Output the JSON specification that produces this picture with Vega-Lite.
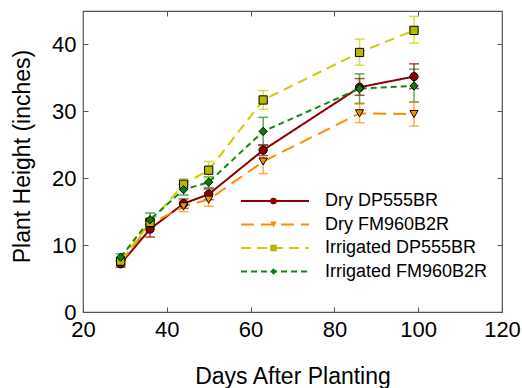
{
  "$schema": "https://vega.github.io/schema/vega-lite/v6.json",
  "width": 419,
  "height": 301,
  "autosize": {"type": "none"},
  "padding": {"left": 83, "top": 11, "right": 20, "bottom": 76},
  "config": {
    "font": "Liberation Sans",
    "view": {"stroke": "#555555", "strokeWidth": 1.2},
    "axis": {
      "grid": false,
      "domain": false,
      "tickColor": "#555555",
      "tickSize": -5,
      "tickWidth": 1,
      "labelFlush": false,
      "labelFont": "Liberation Sans",
      "labelFontSize": 22,
      "labelColor": "#000000",
      "titleFont": "Liberation Sans",
      "titleFontSize": 23,
      "titleFontWeight": "normal",
      "titleColor": "#000000"
    },
    "legend": {"padding": 0, "labelFont": "Liberation Sans", "labelLimit": 300}
  },
  "data": {"values": [
    {"series": "Dry DP555BR", "day": 29, "h": 7.2, "lo": 6.7, "hi": 7.7},
    {"series": "Dry DP555BR", "day": 36, "h": 12.4, "lo": 11.2, "hi": 13.6},
    {"series": "Dry DP555BR", "day": 44, "h": 16.2, "lo": 15.5, "hi": 16.9},
    {"series": "Dry DP555BR", "day": 50, "h": 17.6, "lo": 16.8, "hi": 18.4},
    {"series": "Dry DP555BR", "day": 63, "h": 24.2, "lo": 23.4, "hi": 25.0},
    {"series": "Dry DP555BR", "day": 86, "h": 33.6, "lo": 32.4, "hi": 34.9},
    {"series": "Dry DP555BR", "day": 99, "h": 35.2, "lo": 33.4, "hi": 37.1},
    {"series": "Dry FM960B2R", "day": 29, "h": 7.4, "lo": 6.9, "hi": 7.9},
    {"series": "Dry FM960B2R", "day": 36, "h": 13.1, "lo": 12.4, "hi": 13.8},
    {"series": "Dry FM960B2R", "day": 44, "h": 15.8, "lo": 15.0, "hi": 16.6},
    {"series": "Dry FM960B2R", "day": 50, "h": 16.8, "lo": 15.8, "hi": 17.8},
    {"series": "Dry FM960B2R", "day": 63, "h": 22.5, "lo": 20.7, "hi": 24.3},
    {"series": "Dry FM960B2R", "day": 86, "h": 29.7, "lo": 28.3, "hi": 31.1},
    {"series": "Dry FM960B2R", "day": 99, "h": 29.6, "lo": 27.8, "hi": 31.4},
    {"series": "Irrigated DP555BR", "day": 29, "h": 7.6, "lo": 7.1, "hi": 8.1},
    {"series": "Irrigated DP555BR", "day": 36, "h": 13.4, "lo": 12.7, "hi": 14.1},
    {"series": "Irrigated DP555BR", "day": 44, "h": 19.1, "lo": 18.4, "hi": 19.9},
    {"series": "Irrigated DP555BR", "day": 50, "h": 21.2, "lo": 19.9, "hi": 22.5},
    {"series": "Irrigated DP555BR", "day": 63, "h": 31.7, "lo": 30.3, "hi": 33.1},
    {"series": "Irrigated DP555BR", "day": 86, "h": 38.8, "lo": 36.9, "hi": 40.8},
    {"series": "Irrigated DP555BR", "day": 99, "h": 42.1, "lo": 40.2, "hi": 44.2},
    {"series": "Irrigated FM960B2R", "day": 29, "h": 8.2, "lo": 7.7, "hi": 8.7},
    {"series": "Irrigated FM960B2R", "day": 36, "h": 13.8, "lo": 12.8, "hi": 14.8},
    {"series": "Irrigated FM960B2R", "day": 44, "h": 18.3, "lo": 17.5, "hi": 19.1},
    {"series": "Irrigated FM960B2R", "day": 50, "h": 19.4, "lo": 18.6, "hi": 20.2},
    {"series": "Irrigated FM960B2R", "day": 63, "h": 27.0, "lo": 24.9, "hi": 29.1},
    {"series": "Irrigated FM960B2R", "day": 86, "h": 33.4, "lo": 31.2, "hi": 35.6},
    {"series": "Irrigated FM960B2R", "day": 99, "h": 33.8, "lo": 31.4, "hi": 36.3}
  ]},
  "layer": [
    {
      "mark": {"type": "errorbar", "ticks": {"size": 10, "opacity": 0.7}, "rule": {"opacity": 0.7}, "thickness": 1.5},
      "encoding": {
        "x": {"field": "day", "type": "quantitative", "scale": {"domain": [20, 120], "nice": false}, "axis": null},
        "y": {"field": "lo", "type": "quantitative", "scale": {"domain": [0, 45], "nice": false}, "axis": null},
        "y2": {"field": "hi"},
        "color": {"field": "series", "type": "nominal", "legend": null,
          "scale": {"range": ["#8B0000", "#FF8C00", "#CDCD00", "#108B10"]}}
      }
    },
    {
      "mark": {"type": "line", "strokeWidth": 2},
      "encoding": {
        "x": {"field": "day", "type": "quantitative", "scale": {"domain": [20, 120], "nice": false},
          "axis": {"orient": "bottom", "title": "Days After Planting", "values": [20, 40, 60, 80, 100, 120], "labelPadding": 12, "titleY": 71, "titleBaseline": "alphabetic"}},
        "y": {"field": "h", "type": "quantitative", "scale": {"domain": [0, 45], "nice": false},
          "axis": {"orient": "left", "title": "Plant Height (inches)", "values": [0, 10, 20, 30, 40], "labelPadding": 12, "titleX": -54, "titleY": 145, "titleAngle": -90, "titleAlign": "center", "titleBaseline": "alphabetic"}},
        "stroke": {"field": "series", "type": "nominal",
          "scale": {"range": ["#8B0000", "#FF8C00", "#CDCD00", "#108B10"]},
          "legend": {"orient": "none", "legendX": 183, "legendY": 181, "title": null, "symbolType": "M-5,0H5", "symbolSize": 185, "symbolStrokeWidth": 2, "labelFontSize": 18, "labelOffset": 41, "rowPadding": 5.5, "labelColor": "#000000"}},
        "strokeDash": {"field": "series", "type": "nominal",
          "scale": {"range": [[1, 0], [13, 7], [10, 6], [6, 4]]},
          "legend": {"orient": "none", "legendX": 183, "legendY": 181, "title": null, "symbolType": "M-5,0H5", "symbolSize": 185, "symbolStrokeWidth": 2, "labelFontSize": 18, "labelOffset": 41, "rowPadding": 5.5, "labelColor": "#000000"}}
      }
    },
    {
      "mark": {"type": "point", "filled": true, "size": 68, "stroke": "#000000", "strokeWidth": 1, "opacity": 1},
      "encoding": {
        "x": {"field": "day", "type": "quantitative", "scale": {"domain": [20, 120], "nice": false},
          "axis": {"orient": "top", "labels": false, "title": null, "values": [40, 60, 80, 100]}},
        "y": {"field": "h", "type": "quantitative", "scale": {"domain": [0, 45], "nice": false},
          "axis": {"orient": "right", "labels": false, "title": null, "values": [10, 20, 30, 40]}},
        "fill": {"field": "series", "type": "nominal",
          "scale": {"domain": ["Dry DP555BR", "Dry FM960B2R", "Irrigated DP555BR", "Irrigated FM960B2R"],
                    "range": ["#8B0000", "#FF8C00", "#B8B800", "#0A800A"]},
          "legend": {"orient": "none", "legendX": 181.5, "legendY": 181, "title": null, "symbolSize": 45, "symbolStrokeColor": "#000000", "symbolStrokeWidth": 1, "labelFontSize": 18, "labelExpr": "''", "rowPadding": 5.5}},
        "shape": {"field": "series", "type": "nominal",
          "scale": {"domain": ["Dry DP555BR", "Dry FM960B2R", "Irrigated DP555BR", "Irrigated FM960B2R"],
                    "range": ["circle", "triangle-down", "square", "diamond"]},
          "legend": {"orient": "none", "legendX": 181.5, "legendY": 181, "title": null, "symbolSize": 45, "symbolStrokeColor": "#000000", "symbolStrokeWidth": 1, "labelFontSize": 18, "labelExpr": "''", "rowPadding": 5.5}}
      }
    }
  ]
}
